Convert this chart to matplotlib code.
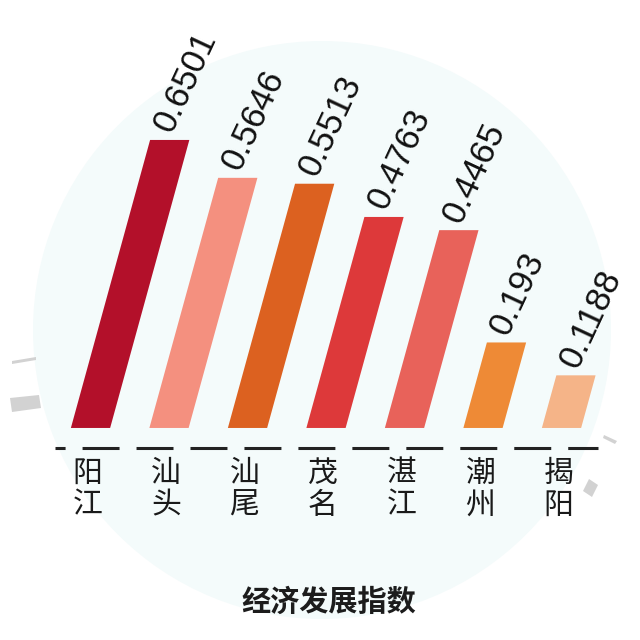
import matplotlib
matplotlib.use("Agg")
import matplotlib.pyplot as plt
from matplotlib.patches import Circle, Polygon

# data
cities = ["阳江", "汕头", "汕尾", "茂名", "湛江", "潮州", "揭阳"]
index_values = [0.6501, 0.5646, 0.5513, 0.4763, 0.4465, 0.193, 0.1188]
value_labels = ["0.6501", "0.5646", "0.5513", "0.4763", "0.4465", "0.193", "0.1188"]
bar_colors = ["#b3102a", "#f4907f", "#dc6120", "#dd393a", "#e8625a", "#ee8a36", "#f5b488"]
title = "经济发展指数"

plt.rcParams['font.family'] = ['Noto Sans CJK SC', 'DejaVu Sans']

fig = plt.figure(figsize=(6.4, 6.4), dpi=100)
fig.patch.set_facecolor('white')

# pale disc in the background
disc = Circle((322 / 640, 1 - 330 / 640), 289 / 640, transform=fig.transFigure,
              facecolor='#f4fbfb', edgecolor='none', zorder=0)
fig.add_artist(disc)

# little grey ring pieces around the disc
def px(points):
    return [(x / 640, 1 - y / 640) for x, y in points]

grey = '#d2d2d2'
for pts in ([(12, 361), (36, 357), (36, 360), (12, 364)],
            [(10, 398), (39, 395), (41, 408), (12, 412)],
            [(604, 435), (617, 441), (615, 444), (603, 438)],
            [(589, 479), (598, 485), (592, 497), (583, 491)]):
    fig.add_artist(Polygon(px(pts), closed=True, transform=fig.transFigure,
                           facecolor=grey, edgecolor='none', zorder=1))

ax = fig.add_axes([0, 0, 1, 1])
ax.set_xlim(-1.153, 7.0)
ax.set_ylim(-0.4786, 0.966)
ax.axis('off')
ax.patch.set_alpha(0)

# how far the bar tops lean right, in data x per data y
p0 = ax.transData.transform((0, 0))
p1 = ax.transData.transform((1, 1))
sx, sy = p1 - p0
lean = 0.275 * sy / sx

half = 0.25
for i, (v, c, lab) in enumerate(zip(index_values, bar_colors, value_labels)):
    xs = [i - half, i + half, i + half + lean * v, i - half + lean * v]
    ys = [0, 0, v, v]
    ax.fill(xs, ys, color=c, lw=0, zorder=3)
    ax.text(i + lean * v + 0.1, v + 0.006, lab, rotation=65, rotation_mode='anchor',
            ha='left', va='bottom', fontsize=25, family='Liberation Sans',
            color='#111111', zorder=4)
    ax.text(i - 0.04, -0.138, "\n".join(cities[i]), ha='center', va='center',
            fontsize=21.5, linespacing=1.05, color='#1a1a1a', zorder=4)

# dashed baseline
ax.plot([-0.452, 6.465], [-0.045, -0.045], color='#222222', lw=2.2,
        linestyle=(8.8, (12.1, 5.56)), solid_capstyle='butt', zorder=3)

fig.text(329 / 640, 1 - 602 / 640, title, ha='center', va='center',
         fontsize=21, fontweight='bold', color='#1c1c1c')

fig.savefig('out.png', dpi=100)
